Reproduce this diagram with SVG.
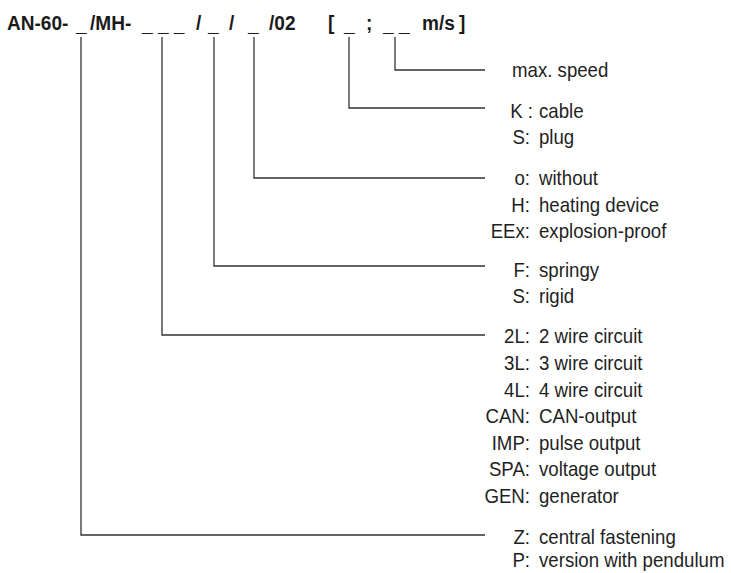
<svg xmlns="http://www.w3.org/2000/svg" width="731" height="573" viewBox="0 0 731 573">
<style>
.t{font-family:"Liberation Sans",Arial,sans-serif;font-weight:bold;font-size:20.5px;fill:#1a1a1a}
.k{font-family:"Liberation Sans",Arial,sans-serif;font-size:20.5px;fill:#1f1f1f;text-anchor:end}
.v{font-family:"Liberation Sans",Arial,sans-serif;font-size:20.5px;fill:#1f1f1f}
.c{fill:none;stroke:#333;stroke-width:1.3}
</style>
<rect width="731" height="573" fill="#fff"/>
<g id="code">
<text class="t" transform="matrix(.93 0 0 1 7 30)">AN-60-</text>
<text class="t" transform="matrix(.93 0 0 1 76 31)">_</text>
<text class="t" transform="matrix(.93 0 0 1 90 30)">/MH-</text>
<text class="t" transform="matrix(.93 0 0 1 142 31)">_ _ _</text>
<text class="t" transform="matrix(.93 0 0 1 196 30)">/</text>
<text class="t" transform="matrix(.93 0 0 1 208 31)">_</text>
<text class="t" transform="matrix(.93 0 0 1 229 30)">/</text>
<text class="t" transform="matrix(.93 0 0 1 248 31)">_</text>
<text class="t" transform="matrix(.93 0 0 1 269 30)">/02</text>
<text class="t" transform="matrix(.93 0 0 1 328 30)">[</text>
<text class="t" transform="matrix(.93 0 0 1 344 31)">_</text>
<text class="t" transform="matrix(.93 0 0 1 366 30)">;</text>
<text class="t" transform="matrix(.93 0 0 1 383 31)">_ _</text>
<text class="t" transform="matrix(.93 0 0 1 422 30)">m/s</text>
<text class="t" transform="matrix(.93 0 0 1 459 30)">]</text>
</g>
<g id="connectors">
<path class="c" d="M395 37V70H485"/>
<path class="c" d="M349 37V108H485"/>
<path class="c" d="M254 37V178H485"/>
<path class="c" d="M214 37V266H485"/>
<path class="c" d="M162 37V335H485"/>
<path class="c" d="M81 37V535H485"/>
</g>
<g id="speed">
<text class="v" transform="matrix(.91 0 0 1 512 77)">max. speed</text>
</g>
<g id="connection">
<text class="k" transform="matrix(.91 0 0 1 533 118)">K :</text><text class="v" transform="matrix(.91 0 0 1 539 118)">cable</text>
<text class="k" transform="matrix(.91 0 0 1 530 144)">S:</text><text class="v" transform="matrix(.91 0 0 1 539 144)">plug</text>
</g>
<g id="heating">
<text class="k" transform="matrix(.91 0 0 1 530 185)">o:</text><text class="v" transform="matrix(.91 0 0 1 539 185)">without</text>
<text class="k" transform="matrix(.91 0 0 1 530 212)">H:</text><text class="v" transform="matrix(.91 0 0 1 539 212)">heating device</text>
<text class="k" transform="matrix(.91 0 0 1 530 238)">EEx:</text><text class="v" transform="matrix(.91 0 0 1 539 238)">explosion-proof</text>
</g>
<g id="mounting">
<text class="k" transform="matrix(.91 0 0 1 530 277)">F:</text><text class="v" transform="matrix(.91 0 0 1 539 277)">springy</text>
<text class="k" transform="matrix(.91 0 0 1 530 303)">S:</text><text class="v" transform="matrix(.91 0 0 1 539 303)">rigid</text>
</g>
<g id="output">
<text class="k" transform="matrix(.91 0 0 1 530 343)">2L:</text><text class="v" transform="matrix(.91 0 0 1 539 343)">2 wire circuit</text>
<text class="k" transform="matrix(.91 0 0 1 530 370)">3L:</text><text class="v" transform="matrix(.91 0 0 1 539 370)">3 wire circuit</text>
<text class="k" transform="matrix(.91 0 0 1 530 397)">4L:</text><text class="v" transform="matrix(.91 0 0 1 539 397)">4 wire circuit</text>
<text class="k" transform="matrix(.91 0 0 1 530 423)">CAN:</text><text class="v" transform="matrix(.91 0 0 1 539 423)">CAN-output</text>
<text class="k" transform="matrix(.91 0 0 1 530 450)">IMP:</text><text class="v" transform="matrix(.91 0 0 1 539 450)">pulse output</text>
<text class="k" transform="matrix(.91 0 0 1 530 476)">SPA:</text><text class="v" transform="matrix(.91 0 0 1 539 476)">voltage output</text>
<text class="k" transform="matrix(.91 0 0 1 530 503)">GEN:</text><text class="v" transform="matrix(.91 0 0 1 539 503)">generator</text>
</g>
<g id="fastening">
<text class="k" transform="matrix(.91 0 0 1 530 544)">Z:</text><text class="v" transform="matrix(.91 0 0 1 539 544)">central fastening</text>
<text class="k" transform="matrix(.91 0 0 1 530 567)">P:</text><text class="v" transform="matrix(.91 0 0 1 539 567)">version with pendulum</text>
</g>
</svg>
